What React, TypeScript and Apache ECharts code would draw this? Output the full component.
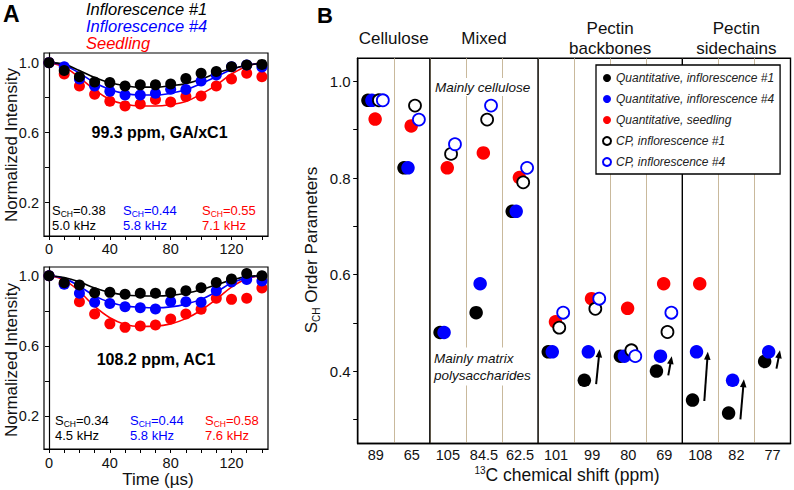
import React, { useEffect, useRef } from 'react';
import * as echarts from 'echarts';

const FONT = "'Liberation Sans', Arial, Helvetica, sans-serif";
const BLACK = '#000000';
const BLUE = '#0000ff';
const RED = '#ff0000';
const TAN = '#c9b99c';
const TXT = '#111111';

// ---------- Panel A data ----------
const times = [0, 10, 20, 30, 40, 50, 60, 70, 80, 90, 100, 110, 120, 130, 140];
const timeLabels = [0, 40, 80, 120];
const timeTicks = [0, 10, 20, 30, 40, 50, 60, 70, 80, 90, 100, 110, 120, 130, 140];
const intensityLabels = [0.2, 0.6, 1.0];
const intensityTicks = [0.2, 0.4, 0.6, 0.8, 1.0];

// 99.3 ppm, GA/xC1
const gaInf1 = [1.0, 0.955, 0.92, 0.89, 0.886, 0.867, 0.873, 0.873, 0.878, 0.91, 0.939, 0.949, 0.977, 0.987, 0.99];
const gaInf4 = [1.0, 0.977, 0.907, 0.867, 0.836, 0.815, 0.815, 0.825, 0.848, 0.846, 0.895, 0.93, 0.977, 0.987, 0.975];
const gaSeed = [1.0, 0.935, 0.867, 0.82, 0.78, 0.753, 0.764, 0.79, 0.775, 0.806, 0.81, 0.867, 0.907, 0.94, 0.92];
const gaFitInf1 = [1.0, 0.99, 0.955, 0.915, 0.885, 0.868, 0.86, 0.86, 0.868, 0.88, 0.905, 0.94, 0.965, 0.985, 0.995];
const gaFitInf4 = [1.0, 0.985, 0.94, 0.885, 0.847, 0.823, 0.815, 0.815, 0.825, 0.845, 0.88, 0.92, 0.96, 0.985, 0.995];
const gaFitSeed = [1.0, 0.975, 0.915, 0.845, 0.79, 0.762, 0.752, 0.752, 0.76, 0.778, 0.82, 0.872, 0.935, 0.98, 1.0];
const gaSch = ['0.38', '0.44', '0.55'];
const gaKhz = ['5.0', '5.8', '7.1'];

// 108.2 ppm, AC1
const acInf1 = [1.0, 0.96, 0.947, 0.903, 0.905, 0.894, 0.9, 0.9, 0.903, 0.914, 0.932, 0.962, 0.981, 1.013, 1.0];
const acInf4 = [1.0, 0.951, 0.9, 0.848, 0.842, 0.823, 0.817, 0.81, 0.853, 0.851, 0.848, 0.914, 0.965, 0.979, 0.97];
const acSeed = [1.0, 0.955, 0.851, 0.781, 0.725, 0.705, 0.713, 0.718, 0.753, 0.781, 0.808, 0.871, 0.865, 0.871, 0.93];
const acFitInf1 = [1.0, 0.99, 0.965, 0.93, 0.905, 0.89, 0.885, 0.884, 0.888, 0.9, 0.92, 0.948, 0.975, 0.995, 1.0];
const acFitInf4 = [1.0, 0.985, 0.94, 0.885, 0.848, 0.827, 0.82, 0.817, 0.822, 0.838, 0.865, 0.908, 0.958, 0.988, 1.0];
const acFitSeed = [1.0, 0.975, 0.91, 0.825, 0.76, 0.722, 0.71, 0.712, 0.725, 0.755, 0.803, 0.865, 0.935, 0.983, 1.0];
const acSch = ['0.34', '0.44', '0.58'];
const acKhz = ['4.5', '5.8', '7.6'];

const sampleNames = ['Inflorescence #1', 'Inflorescence #4', 'Seedling'];

// ---------- Panel B data ----------
const shiftCategories = ['89', '65', '105', '84.5', '62.5', '101', '99', '80', '69', '108', '82', '77'];
const groupNames = ['Cellulose', 'Mixed', 'Pectin\nbackbones', 'Pectin\nsidechains'];
const groupSizes = [2, 3, 4, 3];
const orderLabels = [0.4, 0.6, 0.8, 1.0];
const orderTicks = [0.3, 0.4, 0.5, 0.6, 0.7, 0.8, 0.9, 1.0];

const quantInf1 = [0.961, 0.821, 0.48, 0.521, 0.731, 0.44, 0.381, 0.431, 0.40, 0.34, 0.313, 0.42];
const quantInf4 = [0.961, 0.821, 0.48, 0.581, 0.731, 0.44, 0.44, 0.431, 0.431, 0.44, 0.381, 0.44];
const quantSeed = [0.922, 0.908, 0.821, 0.852, 0.801, 0.502, 0.55, 0.53, 0.581, 0.581, null, null];
const cpInf1 = [0.961, 0.95, 0.85, 0.921, 0.791, 0.49, 0.529, 0.443, 0.481, null, null, null];
const cpInf4 = [0.961, 0.921, 0.87, 0.95, 0.821, 0.521, 0.55, 0.431, 0.521, null, null, null];

const arrowCols = [6, 8, 9, 10, 11];
const arrowFrom = [0.373, 0.391, 0.338, 0.30, 0.405];
const arrowTo = [0.445, 0.431, 0.44, 0.383, 0.443];

const legendNames = [
  'Quantitative, inflorescence #1',
  'Quantitative, inflorescence #4',
  'Quantitative, seedling',
  'CP, inflorescence #1',
  'CP, inflorescence #4',
];

function buildOption(): any {
  const colorsA = [BLACK, BLUE, RED];
  const panels = [
    { pts: [gaInf1, gaInf4, gaSeed], fits: [gaFitInf1, gaFitInf4, gaFitSeed], yMax: 1.055 },
    { pts: [acInf1, acInf4, acSeed], fits: [acFitInf1, acFitInf4, acFitSeed], yMax: 1.05 },
  ];

  const grids: any[] = [
    { left: 44, top: 53, width: 224, height: 183, show: true, borderColor: '#000', borderWidth: 1.2, backgroundColor: 'transparent' },
    { left: 44, top: 267, width: 224, height: 182, show: true, borderColor: '#000', borderWidth: 1.2, backgroundColor: 'transparent' },
    { left: 357.7, top: 58.3, width: 432.8, height: 385.2, show: true, borderColor: '#000', borderWidth: 1.4, backgroundColor: 'transparent' },
  ];

  const xAxes: any[] = [];
  const yAxes: any[] = [];
  const series: any[] = [];

  panels.forEach((p, g) => {
    xAxes.push({
      gridIndex: g, type: 'value', min: -3.3, max: 144,
      axisLine: { show: true, lineStyle: { color: '#000', width: 1.2 } },
      axisTick: { show: true, customValues: timeTicks, length: 4, lineStyle: { color: '#000', width: 1 } },
      axisLabel: { customValues: timeLabels, fontSize: 14.5, color: TXT, fontFamily: FONT, margin: g === 0 ? 5 : 6 },
      splitLine: { show: false },
    });
    yAxes.push({
      gridIndex: g, type: 'value', min: 0.01, max: p.yMax,
      axisLine: { show: true, lineStyle: { color: '#000', width: 1.2 } },
      axisTick: { show: true, customValues: intensityTicks, length: 4, lineStyle: { color: '#000', width: 1 } },
      axisLabel: { customValues: intensityLabels, formatter: (v: number) => v.toFixed(1), fontSize: 14.5, color: TXT, fontFamily: FONT, margin: 5 },
      splitLine: { show: false },
    });
    [2, 1, 0].forEach((k) => {
      series.push({
        name: 'fit-' + g + '-' + k, type: 'line', xAxisIndex: g, yAxisIndex: g,
        data: times.map((t, i) => [t, p.fits[k][i]]), smooth: 0.4, symbol: 'none', showSymbol: false,
        lineStyle: { color: colorsA[k], width: 1.6 }, z: 2, silent: true,
      });
    });
    [2, 1, 0].forEach((k) => {
      series.push({
        name: 'pts-' + g + '-' + k, type: 'scatter', xAxisIndex: g, yAxisIndex: g,
        data: times.map((t, i) => [t, p.pts[k][i]]), symbolSize: 11,
        itemStyle: { color: colorsA[k], opacity: 1 }, z: 3, silent: true,
      });
    });
  });

  // Panel B axes
  xAxes.push({
    gridIndex: 2, type: 'category', data: shiftCategories, boundaryGap: true,
    axisLine: { show: true, lineStyle: { color: '#000', width: 1.4 } },
    axisTick: { show: false },
    axisLabel: { interval: 0, fontSize: 14.5, color: TXT, fontFamily: FONT, margin: 4 },
    splitLine: { show: true, interval: 0, showMinLine: false, showMaxLine: false, lineStyle: { color: TAN, width: 1 } },
  });
  yAxes.push({
    gridIndex: 2, type: 'value', min: 0.25, max: 1.048,
    axisLine: { show: true, lineStyle: { color: '#000', width: 1.4 } },
    axisTick: { show: true, customValues: orderTicks, length: 4.5, lineStyle: { color: '#000', width: 1 } },
    axisLabel: { customValues: orderLabels, formatter: (v: number) => v.toFixed(1), fontSize: 15, color: TXT, fontFamily: FONT, margin: 7 },
    splitLine: { show: false },
  });

  const toPairs = (arr: (number | null)[]) =>
    arr.map((v, i) => (v == null ? null : [i, v])).filter((d) => d !== null);

  const bSeries = [
    { name: legendNames[0], data: quantInf1, fill: BLACK, stroke: null, off: -7.8 },
    { name: legendNames[1], data: quantInf4, fill: BLUE, stroke: null, off: -3.8 },
    { name: legendNames[2], data: quantSeed, fill: RED, stroke: null, off: -0.6 },
    { name: legendNames[3], data: cpInf1, fill: '#ffffff', stroke: BLACK, off: 3.2 },
    { name: legendNames[4], data: cpInf4, fill: '#ffffff', stroke: BLUE, off: 7.1 },
  ];

  // group separators + headers
  const groupStarts: number[] = [];
  groupSizes.reduce((acc, s) => { groupStarts.push(acc); return acc + s; }, 0);

  series.push({
    name: 'groups', type: 'custom', xAxisIndex: 2, yAxisIndex: 2, clip: false, silent: true, z: 3,
    data: groupStarts.map((s, i) => [s, 0.5, groupSizes[i]]),
    encode: { x: 0, y: 1 },
    renderItem: (params: any, api: any) => {
      const start = api.value(0);
      const size = api.value(2);
      const bw = api.size([1, 0])[0];
      const cs = params.coordSys;
      const x0 = api.coord([start, 0.5])[0] - bw / 2;
      const children: any[] = [];
      if (start > 0) {
        children.push({
          type: 'line',
          shape: { x1: x0, y1: cs.y, x2: x0, y2: cs.y + cs.height },
          style: { stroke: '#000', lineWidth: 1.4 },
        });
      }
      children.push({
        type: 'text', x: x0 + (size * bw) / 2, y: cs.y - 20,
        style: {
          text: groupNames[params.dataIndex], align: 'center', verticalAlign: 'middle',
          fontSize: 17, fontFamily: FONT, fill: TXT, lineHeight: 20,
        },
      });
      return { type: 'group', children };
    },
  });

  bSeries.forEach((s) => {
    series.push({
      name: s.name, type: 'scatter', xAxisIndex: 2, yAxisIndex: 2,
      data: toPairs(s.data),
      symbol: 'circle',
      symbolSize: s.stroke ? 12 : 13.5,
      symbolOffset: [s.off, 0],
      itemStyle: s.stroke
        ? { color: s.fill, borderColor: s.stroke, borderWidth: 1.8, opacity: 1 }
        : { color: s.fill, opacity: 1 },
      z: 4, silent: true,
    });
  });

  series.push({
    name: 'arrows', type: 'custom', xAxisIndex: 2, yAxisIndex: 2, clip: false, silent: true, z: 5,
    data: arrowCols.map((c, i) => [c, arrowFrom[i], arrowTo[i]]),
    encode: { x: 0, y: [1, 2] },
    renderItem: (params: any, api: any) => {
      const c = api.value(0);
      const p0 = api.coord([c, api.value(1)]);
      const p1 = api.coord([c, api.value(2)]);
      const x0 = p0[0] + 4, y0 = p0[1];
      const x1 = p1[0] + 7.5, y1 = p1[1];
      const dx = x1 - x0, dy = y1 - y0;
      const len = Math.sqrt(dx * dx + dy * dy) || 1;
      const ux = dx / len, uy = dy / len;
      const hl = 8, hw = 3.3;
      const bx = x1 - ux * hl, by = y1 - uy * hl;
      const px = -uy, py = ux;
      return {
        type: 'group',
        children: [
          { type: 'line', shape: { x1: x0, y1: y0, x2: bx + ux * 1, y2: by + uy * 1 }, style: { stroke: '#000', lineWidth: 2 } },
          {
            type: 'polygon',
            shape: { points: [[x1, y1], [bx + px * hw, by + py * hw], [bx - px * hw, by - py * hw]] },
            style: { fill: '#000' },
          },
        ],
      };
    },
  });

  // ---------- graphics (texts) ----------
  const schLabel = (x: number, y: number, val: string, khz: string, col: string) => [
    {
      type: 'text', x, y, z: 10,
      style: {
        text: '{m|S}{s|CH}{m|=' + val + '}', verticalAlign: 'middle', align: 'left',
        rich: {
          m: { fontSize: 13, fill: col, fontFamily: FONT, lineHeight: 16 },
          s: { fontSize: 8.5, fill: col, fontFamily: FONT, lineHeight: 9, verticalAlign: 'bottom' },
        },
      },
    },
    {
      type: 'text', x, y: y + 15, z: 10,
      style: { text: khz + ' kHz', fontSize: 13, fill: col, fontFamily: FONT, verticalAlign: 'middle', align: 'left' },
    },
  ];

  const sampleRich: any = {};
  sampleNames.forEach((_, i) => {
    sampleRich['c' + i] = { fontSize: 16.5, fontStyle: 'italic', fill: colorsA[i], fontFamily: FONT, lineHeight: 17 };
  });

  const graphics: any[] = [
    { type: 'text', x: 3, y: 14, z: 10, style: { text: 'A', fontSize: 23, fontWeight: 'bold', fill: '#000', fontFamily: FONT, verticalAlign: 'middle' } },
    { type: 'text', x: 317, y: 15, z: 10, style: { text: 'B', fontSize: 22, fontWeight: 'bold', fill: '#000', fontFamily: FONT, verticalAlign: 'middle' } },
    {
      type: 'text', x: 86, y: 0.5, z: 10,
      style: {
        text: sampleNames.map((n, i) => '{c' + i + '|' + n + '}').join('\n'),
        verticalAlign: 'top', align: 'left', rich: sampleRich,
      },
    },
    { type: 'text', x: 159.5, y: 132, z: 10, style: { text: '99.3 ppm, GA/xC1', fontSize: 16, fontWeight: 'bold', fill: '#000', fontFamily: FONT, align: 'center', verticalAlign: 'middle' } },
    { type: 'text', x: 156, y: 359, z: 10, style: { text: '108.2 ppm, AC1', fontSize: 16, fontWeight: 'bold', fill: '#000', fontFamily: FONT, align: 'center', verticalAlign: 'middle' } },
    ...schLabel(52, 210, gaSch[0], gaKhz[0], BLACK),
    ...schLabel(123, 210, gaSch[1], gaKhz[1], BLUE),
    ...schLabel(202, 210, gaSch[2], gaKhz[2], RED),
    ...schLabel(55, 420, acSch[0], acKhz[0], BLACK),
    ...schLabel(130, 420, acSch[1], acKhz[1], BLUE),
    ...schLabel(205, 420, acSch[2], acKhz[2], RED),
    { type: 'text', x: 11, y: 145, rotation: Math.PI / 2, z: 10, style: { text: 'Normalized Intensity', fontSize: 17, fill: TXT, fontFamily: FONT, align: 'center', verticalAlign: 'middle' } },
    { type: 'text', x: 11, y: 360, rotation: Math.PI / 2, z: 10, style: { text: 'Normalized Intensity', fontSize: 17, fill: TXT, fontFamily: FONT, align: 'center', verticalAlign: 'middle' } },
    { type: 'text', x: 158, y: 479, z: 10, style: { text: 'Time (\u00b5s)', fontSize: 17, fill: TXT, fontFamily: FONT, align: 'center', verticalAlign: 'middle' } },
    {
      type: 'text', x: 311, y: 250, rotation: Math.PI / 2, z: 10,
      style: {
        text: '{m|S}{s|CH}{m| Order Parameters}', align: 'center', verticalAlign: 'middle',
        rich: {
          m: { fontSize: 17, fill: TXT, fontFamily: FONT, lineHeight: 20 },
          s: { fontSize: 10, fill: TXT, fontFamily: FONT, lineHeight: 10, verticalAlign: 'bottom' },
        },
      },
    },
    {
      type: 'text', x: 567, y: 475, z: 10,
      style: {
        text: '{u|13}{m|C chemical shift (ppm)}', align: 'center', verticalAlign: 'middle',
        rich: {
          m: { fontSize: 17.5, fill: TXT, fontFamily: FONT, lineHeight: 20 },
          u: { fontSize: 10, fill: TXT, fontFamily: FONT, lineHeight: 10, verticalAlign: 'top' },
        },
      },
    },
    {
      type: 'text', x: 434, y: 87, z: 10,
      style: { text: 'Mainly cellulose', fontSize: 13.5, fontStyle: 'italic', fill: TXT, fontFamily: FONT, verticalAlign: 'middle', backgroundColor: '#fff', padding: [2, 1] },
    },
    {
      type: 'text', x: 433, y: 366.5, z: 10,
      style: { text: 'Mainly matrix\npolysaccharides', fontSize: 13.5, fontStyle: 'italic', fill: TXT, fontFamily: FONT, verticalAlign: 'middle', lineHeight: 17, backgroundColor: '#fff', padding: [2, 1] },
    },
  ];

  return {
    animation: false,
    backgroundColor: '#ffffff',
    textStyle: { fontFamily: FONT },
    grid: grids,
    xAxis: xAxes,
    yAxis: yAxes,
    legend: {
      data: legendNames,
      orient: 'vertical',
      left: 596, top: 65,
      itemWidth: 8, itemHeight: 8, itemGap: 9,
      padding: [7, 6, 6, 6],
      borderColor: '#000', borderWidth: 1.3, backgroundColor: '#ffffff',
      selectedMode: false,
      textStyle: { fontStyle: 'italic', fontSize: 12, color: '#222', fontFamily: FONT, padding: [0, 0, 0, 0] },
      z: 20,
    },
    graphic: { elements: graphics },
    series,
  };
}

export default function App() {
  const ref = useRef<HTMLDivElement>(null);
  useEffect(() => {
    if (!ref.current) return;
    const chart = echarts.init(ref.current, null, { renderer: 'svg' });
    chart.setOption(buildOption());
    return () => chart.dispose();
  }, []);
  return (
    <div
      ref={ref}
      style={{ position: 'absolute', left: 0, top: 0, width: 794, height: 490, background: '#fff' }}
    />
  );
}
